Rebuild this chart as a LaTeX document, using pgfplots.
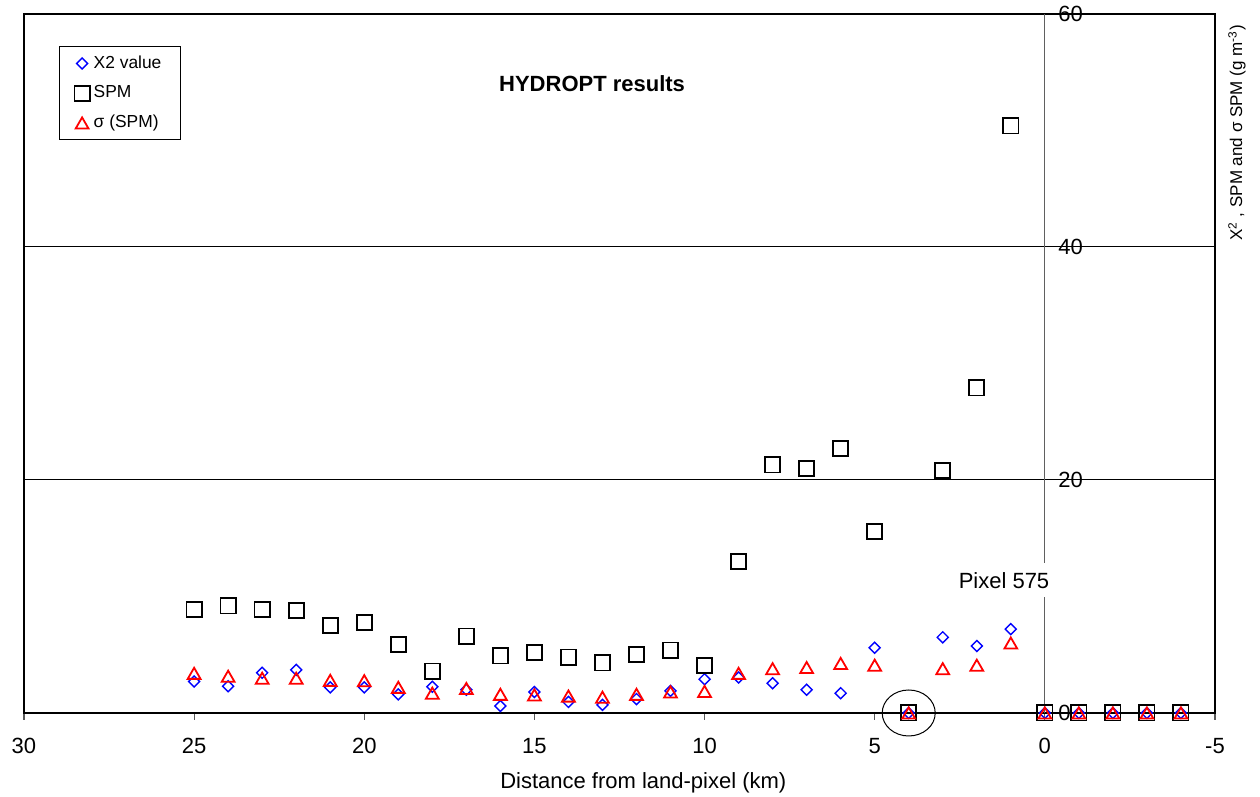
\documentclass[border=0pt]{standalone}
\usepackage{pgfplots}
\pgfplotsset{compat=1.18}
\usepackage{pgfplotstable}
\usepackage{fontspec}
\setmainfont{Liberation Sans}

\pgfplotstableread{
x y
25 2.7
24 2.3
23 3.45
22 3.7
21 2.2
20 2.2
19 1.6
18 2.25
17 2.0
16 0.6
15 1.8
14 0.95
13 0.7
12 1.2
11 1.9
10 2.9
9 3.05
8 2.55
7 2.0
6 1.7
5 5.6
4 0
3 6.5
2 5.75
1 7.2
0 0
-1 0
-2 0
-3 0
-4 0
}\chisq

\pgfplotstableread{
x y
25 8.9
24 9.2
23 8.9
22 8.8
21 7.5
20 7.75
19 5.9
18 3.6
17 6.6
16 4.9
15 5.2
14 4.8
13 4.3
12 5.0
11 5.4
10 4.1
9 13.0
8 21.3
7 21.0
6 22.7
5 15.6
4 0
3 20.8
2 27.9
1 50.4
0 0
-1 0
-2 0
-3 0
-4 0
}\spm

\pgfplotstableread{
x y
25 3.4
24 3.15
23 2.98
22 2.98
21 2.8
20 2.77
19 2.2
18 1.7
17 2.1
16 1.6
15 1.55
14 1.45
13 1.35
12 1.6
11 1.8
10 1.85
9 3.4
8 3.8
7 3.9
6 4.25
5 4.1
4 0
3 3.8
2 4.1
1 6.0
0 0
-1 0
-2 0
-3 0
-4 0
}\sigspm

\begin{document}
\begin{tikzpicture}
\path[use as bounding box] (0,0) rectangle (630pt,398.5pt);
\begin{axis}[
  at={(12pt,42pt)}, anchor=south west,
  scale only axis,
  width=595.5pt, height=349.5pt,
  clip=false,
  x dir=reverse,
  xmin=-5, xmax=30, ymin=0, ymax=60,
  xtick={-5,0,5,10,15,20,25,30},
  ytick={0,20,40,60},
  /pgf/number format/assume math mode=true,
  tick label style={font=\fontsize{11}{13}\selectfont},
  xtick pos=lower,
  tick align=outside,
  x tick style={gray!70!black, line width=0.6pt},
  major tick length=3.5pt,
  ytick style={draw=none},
  xticklabel style={yshift=-5.5pt},
  yticklabel style={anchor=west, xshift=520.5pt, inner sep=0pt},
  ymajorgrids,
  major grid style={black, line width=0.5pt},
  extra x ticks={0},
  extra x tick labels={},
  extra x tick style={xmajorgrids=true, major tick length=0pt,
     major grid style={gray!75!black, line width=0.6pt}},
  axis line style={black, line width=0.9pt},
  xlabel={Distance from land-pixel (km)},
  xlabel style={font=\fontsize{11}{13}\selectfont, at={(axis description cs:0.52,-0.1)}, anchor=center},
  ylabel={X\textsuperscript{2} , SPM and σ SPM (g m\textsuperscript{-3})},
  ylabel style={font=\fontsize{8.5}{10}\selectfont, at={(axis description cs:1.0185,0.83)}, anchor=center},
  legend style={at={(axis description cs:0.0294,0.954)}, anchor=north west,
     font=\fontsize{8.7}{10}\selectfont, draw=black, line width=0.5pt,
     inner xsep=7.5pt, inner ysep=2.5pt, row sep=3.2pt},
  legend cell align=left,
]
\addplot[only marks, mark=square, mark size=1.95pt, blue, mark options={rotate=45, line width=0.7pt}] table[x=x,y=y] {\chisq};
\addlegendentry{X2 value}
\addplot[only marks, mark=square, mark size=3.8pt, black, mark options={line width=0.9pt}] table[x=x,y=y] {\spm};
\addlegendentry{SPM}
\addplot[only marks, mark=triangle, mark size=3.7pt, red, mark options={line width=0.9pt, yshift=-0.9pt}] table[x=x,y=y] {\sigspm};
\addlegendentry{σ (SPM)}
\node[font=\fontsize{11}{13}\selectfont\bfseries] at (axis description cs:0.477,0.901) {HYDROPT results};
\node[font=\fontsize{11}{13}\selectfont, fill=white, inner xsep=2pt, minimum height=17pt] at (axis cs:1.2,11.4) {Pixel 575};
\draw[black, line width=0.5pt] (axis cs:4,0) ellipse [x radius=13.25pt, y radius=11.5pt];
\end{axis}
\end{tikzpicture}
\end{document}
